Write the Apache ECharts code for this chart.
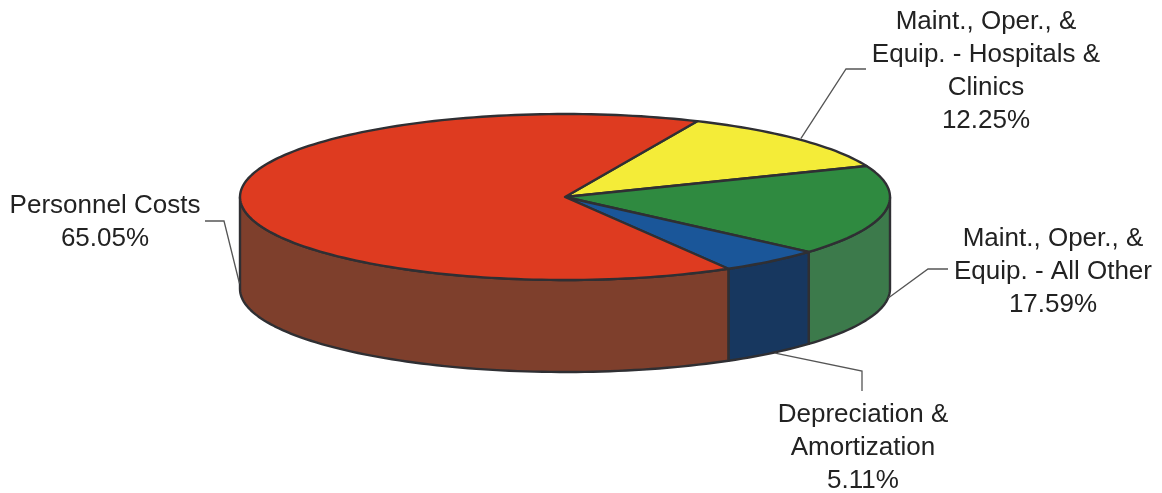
<!DOCTYPE html>
<html><head><meta charset="utf-8">
<style>html,body{margin:0;padding:0;background:#fff}#c{width:1162px;height:493px}</style>
<script src="https://cdn.jsdelivr.net/npm/echarts@6/dist/echarts.min.js"></script>
</head><body><div id="c"></div>
<script>
// Data
const categories = ['Maint., Oper., &\nEquip. - Hospitals &\nClinics','Maint., Oper., &\nEquip. - All Other','Depreciation &\nAmortization','Personnel Costs'];
const shares = [12.25, 17.59, 5.11, 65.05];
// Style
const topColors = ['#F4EC38','#2F8A40','#1A5699','#DE3B20'];
const sideColors = ['#B0A92A','#3C7A4B','#17375F','#7E3F2C'];
const geo = {cx:565, cy:197, rx:325, ry:83, depth:92, start:66};
// label layout: text centre, leader knee(s), leader end, anchor offset
const layout = [
  {tx:986, ty:71,  pts:[[846,69],[866,69]], off:[2,-1], side:false},
  {tx:1053,ty:272, pts:[[928,269],[948,269]], off:[3,-5], side:true},
  {tx:863, ty:448, pts:[[862,371],[862,391]], off:[4,0], side:true},
  {tx:105, ty:222, pts:[[224,221],[205,221]], off:[-1,-10], side:true}
];
const line = '#2f2f33', txt = '#222';
const rad = d => d*Math.PI/180;
const pt = (t,dz=0) => [geo.cx+geo.rx*Math.cos(rad(t)), geo.cy-geo.ry*Math.sin(rad(t))+dz];
function arc(a,b,dz){ const n=Math.max(2,Math.ceil(Math.abs(a-b)/1.5)); const out=[]; for(let i=0;i<=n;i++) out.push(pt(a+(b-a)*i/n,dz)); return out; }
function renderItem(params, api){
  const i = params.dataIndex;
  let before = 0; for(let k=0;k<i;k++) before += shares[k];
  const a = geo.start - before*3.6, b = a - api.value(0)*3.6, mid=(a+b)/2;
  const children = [];
  const stroke = {stroke:line, lineWidth:2.4, lineJoin:'round'};
  const sa=Math.min(a,0), sb=Math.max(b,-180);
  if(sa>sb){
    children.push({type:'polygon',shape:{points:arc(sa,sb,0).concat(arc(sb,sa,geo.depth))},style:Object.assign({fill:sideColors[i]},stroke)});
  }
  children.push({type:'polygon',z2:2,shape:{points:[[geo.cx,geo.cy]].concat(arc(a,b,0))},style:Object.assign({fill:topColors[i]},stroke)});
  const L = layout[i];
  const anchor = pt(mid, L.side?geo.depth:0); anchor[0]+=L.off[0]; anchor[1]+=L.off[1];
  children.push({type:'polyline',z2:1,shape:{points:[anchor].concat(L.pts)},style:{stroke:'#555',lineWidth:1.3,fill:null}});
  children.push({type:'text',z2:3,style:{text:categories[i]+'\n'+api.value(0).toFixed(2)+'%',x:L.tx,y:L.ty,align:'center',verticalAlign:'middle',
    fontFamily:'"Liberation Sans",Arial,sans-serif',fontSize:26,lineHeight:33,fill:txt}});
  return {type:'group',children};
}
const chart = echarts.init(document.getElementById('c'),null,{renderer:'canvas'});
chart.setOption({
  animation:false, backgroundColor:'#fff',
  series:[{type:'custom',coordinateSystem:'none',renderItem,clip:false,data:shares.map(v=>[v])}]
});
</script></body></html>
